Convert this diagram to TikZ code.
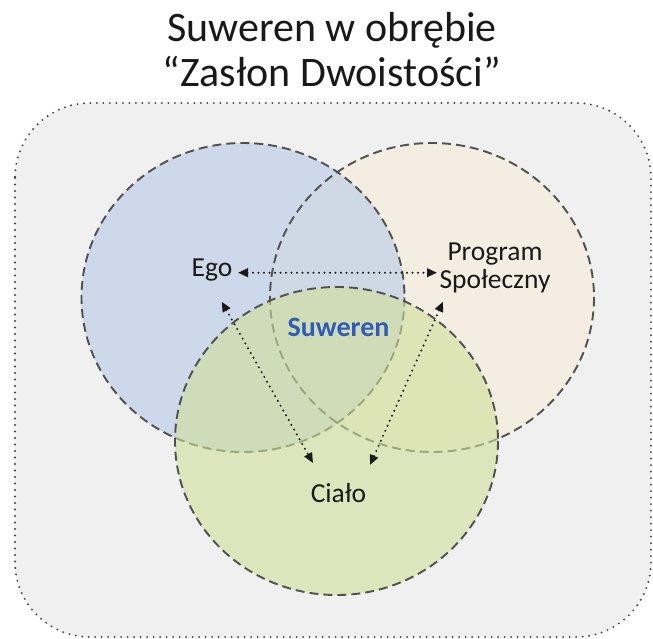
\documentclass[tikz,border=0pt]{standalone}
\usepackage{fontspec}
\setmainfont{Carlito}
\usetikzlibrary{arrows.meta}

\definecolor{panelgray}{RGB}{240,240,240}
\definecolor{egoblue}{RGB}{183,203,233}
\definecolor{progbeige}{RGB}{248,238,217}
\definecolor{bodygreen}{RGB}{207,223,153}
\definecolor{rimgray}{RGB}{80,80,80}
\definecolor{sovblue}{RGB}{46,92,184}

\tikzset{
  veil/.style={fill opacity=0.6},
  rim/.style={draw=rimgray, line width=1.9pt, dash pattern=on 9pt off 5pt},
  panel/.style={fill=panelgray, draw=black!75, line width=2.1pt,
    dash pattern=on 0pt off 6.5pt, line cap=round, rounded corners=75pt},
  link/.style={draw=black!90, line width=2.2pt, dash pattern=on 0pt off 5.5pt, line cap=round,
    {Triangle[length=10pt,width=8.5pt]}-{Triangle[length=10pt,width=8.5pt]}},
  lbl/.style={font=\fontsize{27.5}{28}\selectfont, inner sep=0pt, text=black!90},
  headline/.style={font=\fontsize{42}{45}\selectfont, inner sep=0pt, text=black!90},
}

\begin{document}
\begin{tikzpicture}[x=1pt, y=-1pt]
  \useasboundingbox (0,0) rectangle (653,639);
  \fill[white] (0,0) rectangle (653,639);

  % title
  \node[headline, anchor=base] (title1) at (332,42) {Suweren w obrębie};
  \node[headline, anchor=base] (title2) at (332,87) {“Zasłon Dwoistości”};

  % dotted panel
  \path[panel] (15,103) rectangle (651,637);

  % the three veils
  \fill[progbeige, veil] (432,297.5) ellipse [x radius=162, y radius=154.5];
  \fill[egoblue, veil] (243,297.5) ellipse [x radius=161.5, y radius=154.5];
  \draw[rim] (432,297.5) ellipse [x radius=162, y radius=154.5];
  \draw[rim] (243,297.5) ellipse [x radius=161.5, y radius=154.5];
  \fill[bodygreen, veil] (336.5,441) ellipse [x radius=161.5, y radius=154];
  \draw[rim] (336.5,441) ellipse [x radius=161.5, y radius=154];

  % labels
  \node[lbl, anchor=base] (ego) at (212,276) {Ego};
  \node[lbl, align=center] (prog) at (495,268) {Program\\Społeczny};
  \node[lbl, font=\fontsize{28}{28}\selectfont\bfseries, text=sovblue, anchor=base] (sov) at (338.5,336) {Suweren};
  \node[lbl, anchor=base] (cialo) at (338.5,502) {Ciało};

  % arrow ends next to the labels
  \coordinate (ego-e) at (238,272.7);
  \coordinate (ego-s) at (221.7,301.7);
  \coordinate (prog-w) at (437,272.7);
  \coordinate (prog-s) at (443,301.7);
  \coordinate (cialo-nw) at (313,463);
  \coordinate (cialo-ne) at (370,465);

  % dotted links
  \draw[link] (ego-e) -- (prog-w);
  \draw[link] (ego-s) -- (cialo-nw);
  \draw[link] (prog-s) -- (cialo-ne);
\end{tikzpicture}
\end{document}
